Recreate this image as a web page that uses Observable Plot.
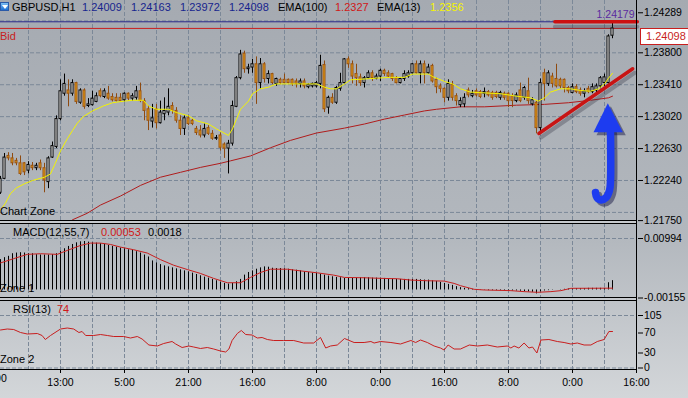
<!DOCTYPE html>
<html><head><meta charset="utf-8">
<script src="https://cdn.jsdelivr.net/npm/d3@7"></script>
<script src="https://cdn.jsdelivr.net/npm/@observablehq/plot@0.6"></script>
<style>
html,body{margin:0;padding:0;}
body{width:688px;height:398px;overflow:hidden;}
#chart{position:relative;width:688px;height:398px;overflow:hidden;background:linear-gradient(#a5aab1,#b3b8be 60%,#d3d6d9);font-family:"Liberation Sans",Arial,sans-serif;}
#chart svg{position:absolute;left:0;top:0;}
.t{position:absolute;font-size:11px;line-height:13px;white-space:nowrap;color:#000;}
.hl{position:absolute;left:0;width:637px;height:1px;background:#000;}
.gap{position:absolute;left:0;width:637px;height:2px;background:#c6c9cd;}
</style></head><body><div id="chart"></div>
<script>
// ---------- DATA ----------
const candleOpen = [1.2209,1.2226,1.2254,1.2251,1.2248,1.2245,1.2245,1.2236,1.2242,1.2239,
1.2245,1.2239,1.2222,1.2252,1.2265,1.2299,1.2330,1.2334,1.2330,1.2343,
1.2319,1.2334,1.2315,1.2316,1.2320,1.2333,1.2326,1.2330,1.2326,1.2325,
1.2325,1.2322,1.2330,1.2324,1.2325,1.2333,1.2321,1.2311,1.2296,1.2311,
1.2294,1.2305,1.2307,1.2315,1.2309,1.2297,1.2287,1.2300,1.2297,1.2287,
1.2285,1.2279,1.2288,1.2281,1.2275,1.2279,1.2268,1.2263,1.2269,1.2314,
1.2349,1.2379,1.2360,1.2362,1.2366,1.2343,1.2366,1.2348,1.2354,1.2342,
1.2347,1.2347,1.2347,1.2347,1.2345,1.2342,1.2345,1.2338,1.2339,1.2339,
1.2342,1.2365,1.2313,1.2325,1.2319,1.2336,1.2343,1.2372,1.2366,1.2354,
1.2350,1.2343,1.2349,1.2355,1.2348,1.2351,1.2358,1.2355,1.2354,1.2349,
1.2343,1.2348,1.2351,1.2355,1.2366,1.2355,1.2366,1.2355,1.2364,1.2347,
1.2339,1.2336,1.2325,1.2341,1.2327,1.2316,1.2317,1.2334,1.2327,1.2333,
1.2332,1.2330,1.2332,1.2331,1.2331,1.2325,1.2330,1.2330,1.2327,1.2321,
1.2334,1.2325,1.2333,1.2317,1.2319,1.2288,1.2355,1.2342,1.2351,1.2348,
1.2347,1.2347,1.2337,1.2331,1.2338,1.2334,1.2330,1.2336,1.2332,1.2334,
1.2339,1.2343,1.2343,1.24009];
const candleHigh = [1.2229,1.2257,1.2258,1.2257,1.2251,1.2254,1.2246,1.2247,1.2246,1.2245,
1.2249,1.2245,1.2253,1.2271,1.2303,1.2347,1.2354,1.2347,1.2347,1.2344,
1.2336,1.2336,1.2324,1.2333,1.2331,1.2336,1.2336,1.2339,1.2330,1.2330,
1.2330,1.2331,1.2331,1.2330,1.2339,1.2343,1.2324,1.2315,1.2317,1.2317,
1.2321,1.2325,1.2336,1.2319,1.2313,1.2303,1.2303,1.2303,1.2299,1.2290,
1.2291,1.2293,1.2291,1.2285,1.2279,1.2282,1.2270,1.2273,1.2321,1.2351,
1.2383,1.2382,1.2366,1.2372,1.2375,1.2373,1.2368,1.2358,1.2355,1.2349,
1.2349,1.2354,1.2348,1.2348,1.2348,1.2348,1.2348,1.2342,1.2343,1.2345,
1.2377,1.2370,1.2327,1.2330,1.2339,1.2355,1.2373,1.2375,1.2370,1.2366,
1.2354,1.2351,1.2358,1.2358,1.2354,1.2360,1.2360,1.2358,1.2355,1.2351,
1.2349,1.2358,1.2358,1.2367,1.2370,1.2370,1.2370,1.2366,1.2366,1.2349,
1.2342,1.2337,1.2347,1.2345,1.2330,1.2325,1.2330,1.2337,1.2334,1.2336,
1.2334,1.2337,1.2334,1.2333,1.2333,1.2333,1.2332,1.2331,1.2330,1.2331,
1.2343,1.2339,1.2349,1.2325,1.2321,1.2348,1.2360,1.2358,1.2355,1.2366,
1.2349,1.2348,1.2339,1.2342,1.2341,1.2337,1.2336,1.2339,1.2342,1.2342,
1.2351,1.2354,1.2402,1.24163];
const candleLow = [1.2207,1.2225,1.2248,1.2242,1.2242,1.2230,1.2230,1.2232,1.2236,1.2236,
1.2236,1.2209,1.2214,1.2251,1.2263,1.2297,1.2327,1.2314,1.2327,1.2317,
1.2317,1.2311,1.2313,1.2315,1.2319,1.2325,1.2324,1.2322,1.2320,1.2320,
1.2320,1.2320,1.2321,1.2321,1.2322,1.2319,1.2297,1.2285,1.2288,1.2287,
1.2293,1.2297,1.2303,1.2305,1.2294,1.2279,1.2279,1.2291,1.2291,1.2279,
1.2276,1.2276,1.2279,1.2273,1.2273,1.2260,1.2251,1.2232,1.2266,1.2313,
1.2347,1.2355,1.2354,1.2355,1.2317,1.2336,1.2343,1.2342,1.2341,1.2339,
1.2341,1.2342,1.2342,1.2339,1.2337,1.2337,1.2336,1.2336,1.2337,1.2337,
1.2336,1.2307,1.2305,1.2317,1.2317,1.2333,1.2342,1.2361,1.2342,1.2339,
1.2339,1.2337,1.2348,1.2345,1.2347,1.2345,1.2351,1.2349,1.2345,1.2342,
1.2342,1.2345,1.2349,1.2354,1.2354,1.2342,1.2342,1.2354,1.2343,1.2330,
1.2331,1.2319,1.2321,1.2321,1.2315,1.2313,1.2313,1.2325,1.2325,1.2326,
1.2324,1.2325,1.2326,1.2322,1.2324,1.2322,1.2322,1.2313,1.2313,1.2319,
1.2319,1.2322,1.2317,1.2315,1.2281,1.2282,1.2321,1.2339,1.2337,1.2337,
1.2336,1.2331,1.2330,1.2330,1.2330,1.2327,1.2325,1.2330,1.2330,1.2331,
1.2336,1.2339,1.2342,1.23972];
const candleClose = [1.2226,1.2252,1.2251,1.2245,1.2245,1.2232,1.2234,1.2243,1.2239,1.2242,
1.2239,1.2224,1.2251,1.2266,1.2299,1.2333,1.2342,1.2330,1.2343,1.2320,
1.2334,1.2314,1.2317,1.2324,1.2327,1.2327,1.2333,1.2324,1.2322,1.2321,
1.2321,1.2330,1.2324,1.2327,1.2333,1.2321,1.2309,1.2297,1.2300,1.2294,
1.2307,1.2309,1.2314,1.2309,1.2297,1.2287,1.2300,1.2293,1.2293,1.2282,
1.2279,1.2287,1.2281,1.2275,1.2276,1.2264,1.2263,1.2269,1.2315,1.2349,
1.2378,1.2360,1.2362,1.2366,1.2343,1.2366,1.2348,1.2354,1.2343,1.2348,
1.2343,1.2343,1.2343,1.2342,1.2342,1.2345,1.2339,1.2341,1.2342,1.2343,
1.2364,1.2311,1.2325,1.2319,1.2337,1.2343,1.2372,1.2366,1.2351,1.2349,
1.2343,1.2349,1.2355,1.2349,1.2351,1.2358,1.2354,1.2351,1.2348,1.2343,
1.2348,1.2354,1.2355,1.2366,1.2355,1.2366,1.2355,1.2362,1.2345,1.2338,
1.2336,1.2325,1.2342,1.2325,1.2321,1.2321,1.2325,1.2328,1.2330,1.2328,
1.2326,1.2332,1.2328,1.2325,1.2326,1.2331,1.2325,1.2321,1.2321,1.2328,
1.2321,1.2337,1.2321,1.2322,1.2288,1.2343,1.2342,1.2355,1.2342,1.2339,
1.2339,1.2337,1.2333,1.2338,1.2332,1.2330,1.2333,1.2332,1.2338,1.2339,
1.2349,1.2350,1.2400,1.24098];

const ema13Idx = [0,1.2,2.5,4,6,8,11,12.5,13.7,15,16.7,18,19.2,20.7,23,25.7,28,31,33,35.7,
37,39,42,44,47,49,52,54,57,58,59,60,62,63,65,67,69,74,79,81,
82.5,84,86,87.5,91,94,97.5,101,103,107,108,111,113,115,117.5,121,125,129,132.5,134.5,
136,137.5,140,142.5,145,147.5,149.5,151,152,153];
const ema13Val = [1.2188,1.2196,1.2208,1.2215,1.2220,1.2224,1.2228,1.2232,1.2245,1.2260,
1.2275,1.2285,1.2294,1.2302,1.2309,1.2315,1.2319,1.2321,1.2322,1.2322,
1.2315,1.2311,1.2311,1.2307,1.2303,1.2297,1.2293,1.2287,1.2279,1.2287,
1.2299,1.2311,1.2321,1.2330,1.2336,1.2338,1.2342,1.2342,1.2342,1.2338,
1.2336,1.2336,1.2342,1.2347,1.2348,1.2349,1.2350,1.2350,1.2354,1.2354,
1.2351,1.2345,1.2342,1.2336,1.2332,1.2331,1.2330,1.2327,1.2325,1.2321,
1.2325,1.2332,1.2336,1.2336,1.2334,1.2333,1.2336,1.2342,1.2349,1.2355];

const ema100Idx = [18,21.7,25,30,35,40,45,50,55,57.5,62.5,67.5,72.5,79,86,91,96,101,106,109,115,121,129,136,142,147.5,152,153];
const ema100Val = [1.2176,1.2184,1.2194,1.2205,1.2218,1.2228,1.2234,1.2240,1.2245,1.2248,
1.2254,1.2264,1.2273,1.2282,1.2288,1.2293,1.2299,1.2304,1.2309,1.2311,
1.2314,1.2314,1.2316,1.2317,1.2319,1.2322,1.2325,1.2327];

const macdHist = [0.00586,0.00624,0.0065,0.0070,0.00713,0.0072,0.00713,0.0070,0.0070,0.00682,
0.00675,0.00675,0.00675,0.00682,0.0070,0.00745,0.00796,0.00841,0.00879,0.00911,
0.0093,0.00936,0.00924,0.00911,0.00905,0.00892,0.00879,0.0086,0.00841,0.00828,
0.00809,0.00796,0.00777,0.00764,0.00739,0.00713,0.00675,0.00637,0.00561,0.00522,
0.0049,0.00465,0.00446,0.00427,0.00408,0.00389,0.00369,0.0035,0.00325,0.00299,
0.00274,0.00248,0.00229,0.00204,0.00178,0.00153,0.00127,0.00115,0.00127,0.00159,
0.00204,0.00287,0.00338,0.00369,0.00401,0.00427,0.00446,0.0044,0.0042,0.00414,
0.00414,0.00408,0.00401,0.00389,0.00382,0.00369,0.0035,0.00338,0.00325,0.00319,
0.00306,0.00287,0.00268,0.00255,0.00242,0.00236,0.00223,0.00223,0.00223,0.00229,
0.00236,0.00236,0.00236,0.00229,0.00229,0.00223,0.00223,0.00217,0.0021,0.00204,
0.00204,0.00204,0.00204,0.00204,0.00204,0.00197,0.00191,0.00191,0.00178,0.00166,
0.00147,0.00127,0.00108,0.00089,0.00064,0.00045,0.00032,0.00025,0.00013,0.00006,
-0.00006,-0.00006,-0.00013,-0.00013,-0.00013,-0.00013,-0.00013,-0.00013,-0.00019,-0.00019,
-0.00025,-0.00032,-0.00038,-0.00045,-0.00076,-0.00038,-0.00019,-0.00013,-0.00006,0,
0.00006,0.00013,0.00019,0.00025,0.00025,0.00025,0.00025,0.00032,0.00032,0.00032,
0.00032,0.00032,0.0014,0.0018];

const macdSigIdx = [0,3.3,6.7,10,14.2,16.7,20,22.5,25,27.5,30,33.3,36.7,40,43.3,46.7,50,53.3,56.7,60,
62.5,65,67.5,71.7,75,79.2,83.3,86,90.9,95.9,99.2,102.6,106.7,110.9,113.4,115,118.4,120.9,127.6,130.9,
134.2,137.6,140.1,142.6,153];
const macdSigVal = [0.00522,0.00605,0.00688,0.007,0.00688,0.00764,0.0086,0.00905,0.00905,0.00879,
0.00828,0.00777,0.00713,0.00586,0.00478,0.00395,0.00319,0.00223,0.0014,0.0014,
0.00242,0.00338,0.00401,0.00401,0.00369,0.00331,0.00287,0.00242,0.00236,0.00223,
0.00217,0.00191,0.00178,0.00172,0.00127,0.00083,0.00013,0,-0.00013,-0.00032,
-0.00045,-0.00032,-0.00013,0.00032,0.00035];

const rsiIdx = [0,1.7,3.3,5,6.7,9.2,10.4,11.2,12.5,15,16.7,18.3,19.6,20.4,21.3,23.3,25,26.7,28.3,30.8,
32.5,34.2,35.4,37.1,39.2,40.8,42.9,43.8,45.4,47.1,48.3,50,51.7,53.3,55,56.3,57.1,57.9,59.2,60.2,
61.3,62.9,64.2,65.4,66.7,68.3,70.8,73.3,75.8,78.3,80,81.3,82.5,84.2,86,88.4,90.9,92.6,93.4,95,
97.6,100,102.6,103.8,105,106.7,108.4,110,110.9,111.9,113.4,115,117.2,119.2,121.7,124.2,126.7,127.6,128.4,129.6,
130.9,132.1,133,134.1,135.1,137.1,139.2,140.9,142.6,144.2,145.9,147.6,149.2,150.9,152.1,153];
const rsiVal = [76,78,77,71,68,69,65,57,65,78,80,78,71,73,65,65,67,65,63,63,
60,63,58,46,44,49,53,48,41,44,42,39,41,38,34,32,38,55,69,75,
67,66,60,61,57,55,55,55,50,50,61,40,44,46,59,51,51,53,50,53,
51,48,55,51,56,51,44,40,36,46,38,38,46,44,46,42,44,40,44,40,
50,40,42,30,56,57,53,51,48,50,46,46,53,57,73,73];

const priceTicks = [1.24289,1.23800,1.23410,1.23020,1.22630,1.22240,1.21750];
const priceGrid = [1.24190,1.23800,1.23410,1.23020,1.22630,1.22240,1.21850];
const macdTicks = [0.00994,-0.00155];
const rsiTicks = [105,70,30,0];
const timeTickIdx = [-1,15,31,47,63,79,95,111,127,143,159];
const timeTickLabels = ["0:00","13:00","5:00","21:00","16:00","8:00","0:00","16:00","8:00","0:00","16:00"];
const bidPrice = 1.24098;
const highPrice = 1.24179;
// hand-drawn annotations (candle index, price)
const resistIdx = [138.6,159.2];
const trendIdx = [134.6,158.05];
const trendVal = [1.22814,1.23605];
const arrowHeadIdx = [148.375,151.95,155.7];
const arrowHeadVal = [1.22823,1.23177,1.22823];
const arrowBase = 1.22823;
const arrowShaftIdx = [152.5,152.5,152.25,151.4,150.1,149.1,148.75];
const arrowShaftVal = [1.22839,1.2224,1.22118,1.22032,1.22002,1.22032,1.22094];

// ---------- BUILD ----------
const pts = (xs, ys) => xs.map((x, k) => ({x, y: ys[k]}));
const candles = candleOpen.map((o, i) => ({i, o, h: candleHigh[i], l: candleLow[i], c: candleClose[i], up: candleClose[i] >= o}));
const gridIdx = d3.range(7, 152, 8);
const gridColor = "#7b8898";
const dash = "4,2";
const xScale = {domain: [0, 159.25], range: [0, 637]};
const common = {width: 688, height: 398, marginLeft: 0, marginRight: 51,
  style: {background: "transparent", overflow: "visible", fontFamily: "'Liberation Sans', Arial, sans-serif", fontSize: "10.5px", color: "#000"}};
const chart = document.getElementById("chart");
const f5 = d3.format(".5f");

const main = Plot.plot({
  ...common, marginTop: 0, marginBottom: 178,
  x: {...xScale, axis: null},
  y: {domain: [1.2175, 1.24439], range: [220.1, 0], axis: "right", ticks: priceTicks, tickFormat: f5, tickSize: 5, tickPadding: 1.5, label: null},
  marks: [
    Plot.ruleY(priceGrid, {stroke: gridColor, strokeDasharray: dash}),
    Plot.ruleX(gridIdx, {stroke: gridColor, strokeDasharray: dash}),
    Plot.ruleY([highPrice], {stroke: "#2a2a8c"}),
    Plot.ruleY([bidPrice], {stroke: "#c81e1e"}),
    Plot.line(pts(ema100Idx, ema100Val), {x: "x", y: "y", stroke: "#b01c1c", strokeWidth: 1}),
    Plot.ruleX(candles, {x: "i", y1: "l", y2: "h", stroke: d => d.up ? "#000" : "#8e4a10"}),
    Plot.rect(candles, {x1: d => d.i - 0.25, x2: d => d.i + 0.25, y1: "o", y2: "c",
      fill: d => d.up ? "#ffffff" : "#e8a318", stroke: d => d.up ? "#000" : "#9a5210", strokeWidth: 1}),
    Plot.line(pts(ema13Idx, ema13Val), {x: "x", y: "y", stroke: "#f4f400", strokeWidth: 1}),
    Plot.line(resistIdx, {x: d => d, y: () => highPrice, stroke: "rgba(40,40,55,0.3)", strokeWidth: 4, dy: 5}),
    Plot.line(resistIdx, {x: d => d, y: () => highPrice, stroke: "#cc1010", strokeWidth: 3.5}),
    Plot.line(pts(trendIdx, trendVal), {x: "x", y: "y", stroke: "rgba(40,40,55,0.3)", strokeWidth: 4, dx: 2, dy: 4}),
    Plot.line(pts(trendIdx, trendVal), {x: "x", y: "y", stroke: "#c81414", strokeWidth: 3.5}),
    Plot.line(pts(arrowShaftIdx, arrowShaftVal), {x: "x", y: "y", curve: "catmull-rom", stroke: "rgba(10,10,60,0.45)", strokeWidth: 7.5, strokeLinecap: "round", dx: 3, dy: 3}),
    Plot.areaY(pts(arrowHeadIdx, arrowHeadVal), {x: "x", y1: () => arrowBase, y2: "y", fill: "rgba(10,10,60,0.45)", dx: 3, dy: 3}),
    Plot.line(pts(arrowShaftIdx, arrowShaftVal), {x: "x", y: "y", curve: "catmull-rom", stroke: "#1d3cf0", strokeWidth: 7.5, strokeLinecap: "round"}),
    Plot.areaY(pts(arrowHeadIdx, arrowHeadVal), {x: "x", y1: () => arrowBase, y2: "y", fill: "#1d3cf0"}),
    Plot.text([highPrice], {y: d => d, frameAnchor: "right", textAnchor: "end", dx: -3, dy: -7, text: d => f5(d), fill: "#5a2aa0", fontSize: 10.5})
  ]
});

const macd = Plot.plot({
  ...common, marginTop: 223, marginBottom: 100,
  x: {...xScale, axis: null},
  y: {domain: [-0.00155, 0.00994], range: [297.5, 238], axis: "right", ticks: macdTicks, tickFormat: d => d.toFixed(5), tickSize: 5, tickPadding: 1.5, label: null},
  marks: [
    Plot.ruleY([macdTicks[0]], {stroke: gridColor, strokeDasharray: dash}),
    Plot.ruleX(gridIdx, {stroke: gridColor, strokeDasharray: dash}),
    Plot.ruleX(macdHist, {x: (d, i) => i, y1: () => 0, y2: d => d, stroke: "#000", strokeWidth: 1}),
    Plot.line(pts(macdSigIdx, macdSigVal), {x: "x", y: "y", stroke: "#c81e1e", strokeWidth: 1})
  ]
});

const rsi = Plot.plot({
  ...common, marginTop: 300, marginBottom: 29,
  x: {...xScale, axis: "bottom", ticks: timeTickIdx.slice(1), tickFormat: d => timeTickLabels[timeTickIdx.indexOf(d)], tickSize: 4, tickPadding: 5, label: null},
  y: {domain: [0, 105], range: [367.5, 315], axis: "right", ticks: rsiTicks, tickSize: 5, tickPadding: 1.5, label: null},
  marks: [
    Plot.ruleY([105, 0], {stroke: gridColor, strokeDasharray: dash}),
    Plot.ruleX(gridIdx, {stroke: gridColor, strokeDasharray: dash}),
    Plot.line(pts(rsiIdx, rsiVal), {x: "x", y: "y", stroke: "#c81e1e", strokeWidth: 1}),
    Plot.text([timeTickIdx[0]], {x: d => d, frameAnchor: "bottom", dy: 12.5, text: d => timeTickLabels[timeTickIdx.indexOf(d)], fill: "#000", fontSize: 10.5})
  ]
});

chart.append(rsi, macd, main);

// frame lines and labels (layout)
const html = `
<div class="hl" style="top:220px"></div><div class="gap" style="top:221px"></div><div class="hl" style="top:223px"></div>
<div class="hl" style="top:297px"></div><div class="gap" style="top:298px"></div><div class="hl" style="top:300px"></div>
<div class="hl" style="top:369px"></div>
<div style="position:absolute;left:636px;top:0;width:1px;height:370px;background:#000"></div>
<div style="position:absolute;left:0;top:2px;width:9px;height:9px;background:linear-gradient(#7cc0f4,#1c6fd2);border:1px solid #2a5aa8;box-sizing:border-box"><div style="margin:2px 0 0 1px;width:0;height:0;border-left:3px solid transparent;border-right:3px solid transparent;border-top:4px solid #fff"></div></div>
<span class="t" style="left:12px;top:1px">GBPUSD,H1</span>
<span class="t" style="left:82px;top:1px;color:#17258e">1.24009</span>
<span class="t" style="left:131px;top:1px;color:#17258e">1.24163</span>
<span class="t" style="left:180px;top:1px;color:#17258e">1.23972</span>
<span class="t" style="left:229px;top:1px;color:#17258e">1.24098</span>
<span class="t" style="left:278px;top:1px">EMA(100)</span>
<span class="t" style="left:335px;top:1px;color:#d01818">1.2327</span>
<span class="t" style="left:377px;top:1px">EMA(13)</span>
<span class="t" style="left:430px;top:1px;color:#f4f400">1.2356</span>
<span class="t" style="left:0px;top:30px;color:#c81e1e">Bid</span>
<div style="position:absolute;left:640px;top:28px;width:60px;height:17px;background:#fff;border:1px solid #c81e1e;box-sizing:border-box"></div>
<span class="t" style="left:646px;top:30px;color:#c81e1e">1.24098</span>
<span class="t" style="left:0px;top:205px">Chart Zone</span>
<span class="t" style="left:13px;top:226px">MACD(12,55,7)</span>
<span class="t" style="left:101px;top:226px;color:#d01818">0.00053</span>
<span class="t" style="left:148px;top:226px">0.0018</span>
<span class="t" style="left:0px;top:282px">Zone 1</span>
<span class="t" style="left:13px;top:303px">RSI(13)</span>
<span class="t" style="left:57px;top:303px;color:#d01818">74</span>
<span class="t" style="left:0px;top:353px">Zone 2</span>`;
chart.insertAdjacentHTML("beforeend", html);
</script></body></html>
